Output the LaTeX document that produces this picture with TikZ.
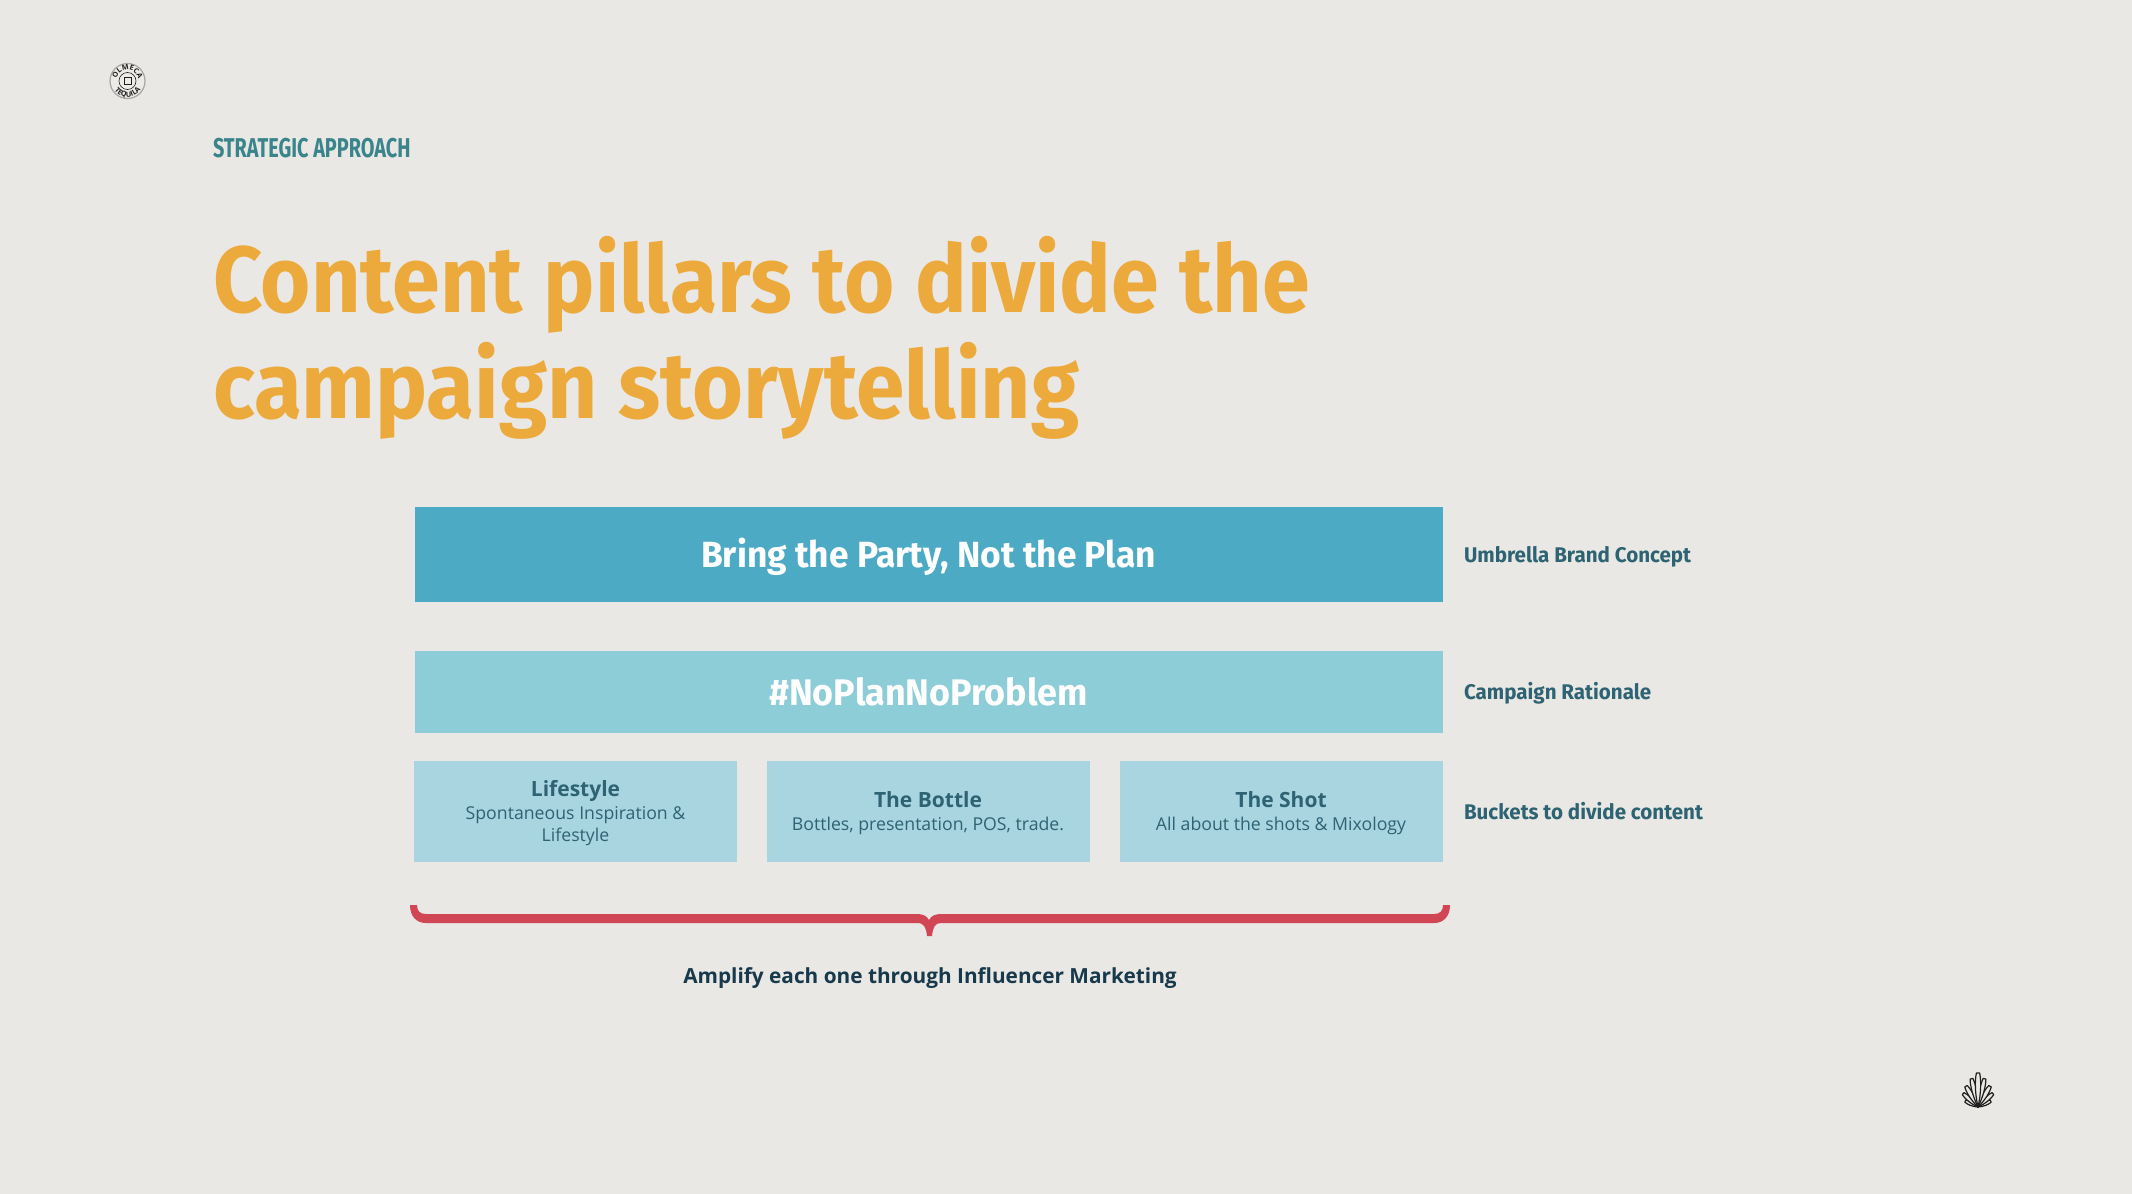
\documentclass[tikz,border=0pt]{standalone}
\usepackage{fontspec}
\usetikzlibrary{decorations.text}
\setmainfont{Open Sans}
\newfontfamily\titlefont[FakeStretch=0.917]{Fira Sans}
\newfontfamily\titlefontb[FakeStretch=0.929]{Fira Sans}
\newfontfamily\labelfont[FakeStretch=0.97]{Fira Sans}
\newfontfamily\headfont[FakeStretch=0.73]{Fira Sans}
\definecolor{bgc}{HTML}{E9E8E4}
\definecolor{boxa}{HTML}{4DAAC4}
\definecolor{boxb}{HTML}{8CCDD8}
\definecolor{boxc}{HTML}{A9D5E1}
\definecolor{tealc}{HTML}{2E6373}
\definecolor{headc}{HTML}{3A858C}
\definecolor{orangec}{HTML}{EDAA3C}
\definecolor{redc}{HTML}{D14654}
\definecolor{navyc}{HTML}{17394B}
\definecolor{logoc}{HTML}{1F1F1F}
\tikzset{
  bar/.style={inner sep=0pt,outer sep=0pt,minimum height=#1},
  pxtext/.style={inner sep=0pt,outer sep=0pt,anchor=base west},
  sidelabel/.style={pxtext,font=\labelfont\bfseries\fontsize{10.6pt}{12pt}\selectfont,text=tealc},
  bucket/.style={inner sep=0pt,outer sep=0pt,fill=boxc,minimum width=161.5pt,minimum height=50.5pt},
  btext/.style={inner sep=0pt,outer sep=0pt,align=center,text=tealc,font=\fontsize{8.85pt}{11pt}\selectfont},
  bhead/.style={},
  petal/.style={draw=logoc,fill=bgc,line width=0.6pt,line join=round}
}
\newcommand{\bkhead}[1]{{\bfseries\fontsize{10.5pt}{12pt}\selectfont #1}}
\begin{document}
\begin{tikzpicture}[x=0.5pt,y=-0.5pt]
\useasboundingbox[fill=bgc] (0,0) rectangle (2132,1194);
% logo top left
\node[circle,draw=gray!70,line width=0.6pt,fill=bgc!85!white,minimum size=17.5pt,inner sep=0pt] (logo) at (127.5,81) {};
\node[circle,draw=logoc,line width=0.3pt,minimum size=8.5pt,inner sep=0pt] (logoin) at (logo.center) {};
\node[draw=logoc,line width=0.4pt,minimum width=3.6pt,minimum height=3.4pt,inner sep=0pt] (logobox) at (logo.center) {};
\path[decorate,decoration={text along path,text align=center,text={|\fontsize{3.6pt}{4pt}\bfseries\color{logoc}|OLMECA}}]
  (116.5,81) arc[start angle=180,end angle=360,radius=11];
\path[decorate,decoration={text along path,text align=center,text={|\fontsize{3.6pt}{4pt}\bfseries\color{logoc}|TEQUILA}}]
  (111.5,81) arc[start angle=180,end angle=0,radius=16];
% heading
\node[pxtext,font=\headfont\bfseries\fontsize{13.6pt}{14pt}\selectfont,text=headc] (head) at (213,157) {STRATEGIC APPROACH};
\node[pxtext,font=\titlefont\bfseries\fontsize{47pt}{50pt}\selectfont,text=orangec] (title1) at (213,312) {Content pillars to divide the};
\node[pxtext,font=\titlefontb\bfseries\fontsize{47pt}{50pt}\selectfont,text=orangec] (title2) at (213,418) {campaign storytelling};
% bars
\node[bar=47.5pt,fill=boxa,minimum width=514pt,text=white,text height=15pt,text depth=2pt,font=\labelfont\bfseries\fontsize{18.2pt}{20pt}\selectfont] (umb) at (928.5,554.5) {Bring the Party, Not the Plan};
\node[bar=41pt,fill=boxb,minimum width=514pt,text=white,font=\labelfont\bfseries\fontsize{18.5pt}{20pt}\selectfont] (rat) at (928.5,692) {\#NoPlanNoProblem};
\node[bucket] (b1) at (575.5,811.5) {};
\node[bucket] (b2) at (928,811.5) {};
\node[bucket] (b3) at (1281,811.5) {};
\node[btext] (t1) at ([yshift=-0.9pt]b1.center) {\bkhead{Lifestyle}\\[0.3pt]Spontaneous Inspiration \&\\Lifestyle};
\node[btext] (t2) at ([yshift=-0.9pt]b2.center) {\bkhead{The Bottle}\\[0.3pt]Bottles, presentation, POS, trade.};
\node[btext] (t3) at ([yshift=-0.9pt]b3.center) {\bkhead{The Shot}\\[0.3pt]All about the shots \& Mixology};
% side labels
\node[sidelabel] (l1) at (1464,562) {Umbrella Brand Concept};
\node[sidelabel] (l2) at (1464,699) {Campaign Rationale};
\node[sidelabel] (l3) at (1464,819) {Buckets to divide content};
% brace
\fill[redc] (410,905) -- (417,905) .. controls (417,911) and (420,914) .. (426,914)
  -- (917,914) .. controls (923,914) and (927,916) .. (929,920)
  .. controls (931,916) and (935,914) .. (941,914) -- (1434,914)
  .. controls (1440,914) and (1443,911) .. (1443,905) -- (1450,905)
  .. controls (1450,917) and (1443,923) .. (1434,923) -- (941,923)
  .. controls (935,923) and (933,927) .. (932,936) -- (927,936)
  .. controls (926,927) and (924,923) .. (917,923) -- (426,923)
  .. controls (417,923) and (410,917) .. (410,905) -- cycle;
\node[inner sep=0pt,outer sep=0pt,anchor=base,font=\bfseries\fontsize{10.4pt}{12pt}\selectfont,text=navyc] (amp) at (930,983) {Amplify each one through Influencer Marketing};
% agave
\begin{scope}[shift={(1978,1107)}]
\foreach \a/\l/\w in {-65/14/2.2,65/14/2.2,-48/20/2.6,48/20/2.6,-30/24/2.8,30/24/2.8,-13/29/2.8,13/29/2.8,0/34/3.2}{
  \draw[petal,rotate=\a] (0,0) .. controls (-\w,-\l*0.4) and (-\w,-\l*0.8) .. (-\w*0.5,-\l) -- (\w*0.5,-\l) .. controls (\w,-\l*0.8) and (\w,-\l*0.4) .. (0,0) -- cycle;
}
\end{scope}
\end{tikzpicture}
\end{document}
